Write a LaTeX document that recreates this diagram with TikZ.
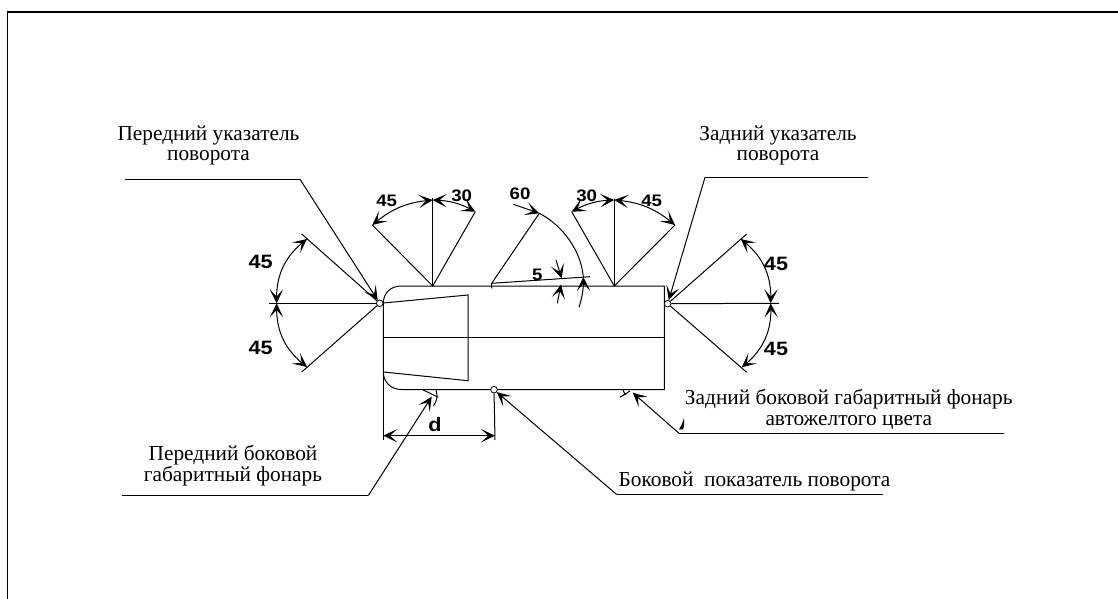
\documentclass[tikz,border=0pt]{standalone}
\usepackage{fontspec}
\setmainfont{Liberation Serif}
\newfontfamily\dimfont[FakeStretch=1.12]{Liberation Sans}
\usetikzlibrary{arrows.meta,bending}
\tikzset{
  ln/.style={line width=0.75pt,black},
  tipA/.tip={Stealth[length=10.5pt,width=10pt,inset=5.5pt]},
  arr/.style={ln,-{tipA}},
  arrboth/.style={ln,{tipA}-{tipA}},
  lamp/.style={circle,draw,fill=white,line width=0.6pt,inner sep=0pt,minimum size=5pt},
  lbl/.style={font=\fontsize{16}{15.4}\selectfont,inner sep=0pt,align=center,anchor=base},
  dimbig/.style={font=\dimfont\bfseries\fontsize{14.5}{16}\selectfont,inner sep=0pt},
  dimsm/.style={font=\dimfont\bfseries\fontsize{12.5}{14}\selectfont,inner sep=0pt}
}
\begin{document}
\begin{tikzpicture}[x=0.75pt,y=-0.75pt]
\useasboundingbox (0,0) rectangle (1118,599);
% frame
\coordinate (fBL) at (7.5,599); \coordinate (fTL) at (7.5,12); \coordinate (fTR) at (1118,12);
\draw[line width=0.8pt] (fBL) -- (fTL) -- (fTR);
% body
\coordinate (bTL) at (401,286); \coordinate (bTR) at (664.3,286);
\coordinate (bBR) at (664.3,389.5); \coordinate (bBL) at (401,389.5);
\coordinate (bL1) at (383.3,303); \coordinate (bL2) at (383.3,372);
\draw[ln] (bL1) .. controls (383.3,293) and (391,286) .. (bTL) -- (bTR) -- (bBR) -- (bBL)
   .. controls (391,389.5) and (383.3,382) .. (bL2) -- cycle;
\coordinate (mL) at (383.3,337.7); \coordinate (mR) at (664.3,337.7);
\draw[ln] (mL) -- (mR);
\coordinate (t1) at (468,295); \coordinate (t2) at (468,380.7);
\draw[ln] (bL1) -- (t1) -- (t2) -- (bL2);
% left fan
\node[lamp] (lf) at (379.7,303.3) {};
\coordinate (lfU) at (301.7,234); \coordinate (lfM) at (269,303.3); \coordinate (lfD) at (301.7,372);
\draw[ln] (lf) -- (lfU); \draw[ln] (lf) -- (lfM); \draw[ln] (lf) -- (lfD);
\coordinate (lfUa) at (307,239); \coordinate (lfMa) at (276.7,303.3); \coordinate (lfDa) at (307,367);
\draw[arrboth] (lfMa) to[bend left=28] (lfUa);
\draw[arrboth] (lfMa) to[bend right=28] (lfDa);
% right fan
\node[lamp] (rf) at (667.7,303.7) {};
\coordinate (rfU) at (746.7,234); \coordinate (rfM) at (779,303.3); \coordinate (rfD) at (746.7,372.3);
\draw[ln] (rf) -- (rfU); \draw[ln] (rf) -- (rfM); \draw[ln] (rf) -- (rfD);
\coordinate (rfUa) at (740.7,239); \coordinate (rfMa) at (770.7,303.3); \coordinate (rfDa) at (741.7,367.3);
\draw[arrboth] (rfMa) to[bend right=28] (rfUa);
\draw[arrboth] (rfMa) to[bend left=28] (rfDa);
% top-left fan
\coordinate (tl0) at (432.7,286); \coordinate (tlV) at (432.7,198.3);
\coordinate (tlL) at (372.3,225); \coordinate (tlR) at (475.3,211.7);
\coordinate (tlVa) at (432.7,200);
\draw[ln] (tlL) -- (tl0) -- (tlR); \draw[ln] (tl0) -- (tlV);
\draw[arrboth] (tlVa) to[bend right=18] (tlL);
\draw[arrboth] (tlVa) to[bend left=14] (tlR);
% top-right fan
\coordinate (tr0) at (614.3,286); \coordinate (trV) at (614.3,199.3);
\coordinate (trL) at (571.7,211.7); \coordinate (trR) at (675,225);
\coordinate (trVa) at (614.3,200);
\draw[ln] (trL) -- (tr0) -- (trR); \draw[ln] (tr0) -- (trV);
\draw[arrboth] (trVa) to[bend right=14] (trL);
\draw[arrboth] (trVa) to[bend left=18] (trR);
% 60 degree
\coordinate (s0) at (491.7,283.3); \coordinate (s0b) at (491.7,288.3);
\coordinate (s60) at (539.3,213.3); \coordinate (s60t) at (513.3,204.3);
\coordinate (s5) at (590,276.7);
\coordinate (sArc) at (583.3,277); \coordinate (sTail) at (579,307.3);
\draw[ln] (s0b) -- (s0) -- (s60);
\draw[ln] (s0) -- (s5);
\draw[arr] (s60t) -- (s60);
\draw[ln] (s60) .. controls (562,225) and (581,250) .. (sArc);
\draw[arr] (sTail) .. controls (582,298) and (584,288) .. (sArc);
% 5 degree
\coordinate (fiveA) at (556,260); \coordinate (fiveAt) at (561.7,278.3);
\coordinate (fiveB) at (557.3,303.3); \coordinate (fiveBt) at (561,284.5);
\draw[arr] (fiveA) -- (fiveAt);
\draw[arr] (fiveB) -- (fiveBt);
% bottom lamp & d
\node[lamp] (bl) at (494,389.7) {};
\coordinate (dL) at (383.3,440); \coordinate (dR) at (495,440);
\coordinate (dLa) at (383.3,435.7); \coordinate (dRa) at (495,435.7);
\draw[ln] (bL2) -- (dL);
\draw[ln] (bl) -- (dR);
\draw[arrboth] (dLa) -- (dRa);
% leaders
\coordinate (lA) at (125,179.3); \coordinate (lB) at (300,179.3);
\draw[ln] (lA) -- (lB);
\draw[arr] (lB) -- (lf);
\coordinate (rA) at (868,177.3); \coordinate (rB) at (705,177.3);
\draw[ln] (rA) -- (rB);
\draw[arr] (rB) -- (rf);
\coordinate (fA) at (122,495.5); \coordinate (fB) at (368.3,495.5); \coordinate (fC) at (431.7,396.7);
\draw[ln] (fA) -- (fB);
\draw[arr] (fB) -- (fC);
\coordinate (fT1) at (423.3,390); \coordinate (fT2) at (438.3,397.3);
\coordinate (fS1) at (436,390); \coordinate (fS2) at (433.5,406);
\draw[ln] (fT1) -- (fT2);
\draw[ln] (fS1) to[bend left=25] (fS2);
\coordinate (bA) at (883,494.5); \coordinate (bB) at (616.7,494.5);
\draw[ln] (bA) -- (bB);
\draw[arr] (bB) -- (bl);
\coordinate (cA) at (1004,433.3); \coordinate (cB) at (679,433.3); \coordinate (cC) at (632.7,392.7);
\draw[ln] (cA) -- (cB);
\draw[arr] (cB) -- (cC);
\coordinate (cT1) at (620,397.3); \coordinate (cT2) at (630,391);
\coordinate (cS1) at (623.3,390); \coordinate (cS2) at (626,395);
\draw[ln] (cT1) -- (cT2);
\draw[ln] (cS1) to[bend right=20] (cS2);
\fill (679,429.3) .. controls (682,425) and (683,421) .. (684,418) .. controls (684.5,423) and (684,427) .. (683,429.3) -- cycle;
% dimension labels
\node[dimbig] (n1) at (260.7,262.3) {45};
\node[dimbig] (n2) at (260.7,347.7) {45};
\node[dimbig] (n3) at (776,263.7) {45};
\node[dimbig] (n4) at (776,349.3) {45};
\node[dimsm] (n5) at (386.7,200.7) {45};
\node[dimsm] (n6) at (461.7,196) {30};
\node[dimsm] (n7) at (651.7,200.7) {45};
\node[dimsm] (n8) at (586.7,195.3) {30};
\node[dimsm] (n9) at (520,193.3) {60};
\node[dimsm] (n10) at (537.3,275) {5};
\node[dimbig] (n11) at (435,424.3) {d};
% texts
\node[lbl] (x1) at (208.5,161) {Передний указатель\\поворота};
\node[lbl] (x2) at (778,161) {Задний указатель\\поворота};
\node[lbl] (x3) at (233,481) {Передний боковой\\габаритный фонарь};
\node[lbl] (x4) at (754.5,486) {Боковой\ \ показатель поворота};
\node[lbl] (x5) at (848.8,425) {Задний боковой габаритный фонарь\\автожелтого цвета};
\end{tikzpicture}
\end{document}
